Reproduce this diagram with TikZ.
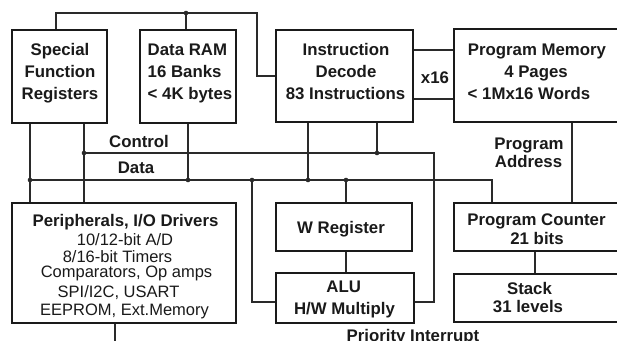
\documentclass[tikz,border=0pt]{standalone}
\usepackage{fontspec}
\setmainfont{Liberation Sans}
\definecolor{ink}{HTML}{1A1A1A}
\definecolor{wirec}{HTML}{2A2A2A}
\begin{document}
\begin{tikzpicture}[x=1pt,y=-1pt,
  box/.style={draw=ink,line width=2.8pt,inner sep=0pt},
  wire/.style={draw=wirec,line width=1.2pt},
  lbl/.style={font=\fontsize{16.8pt}{20pt}\selectfont\bfseries,text=ink,inner sep=0pt,anchor=base},
  reg/.style={font=\fontsize{16.5pt}{19pt}\selectfont,text=ink,inner sep=0pt,anchor=base},
  jdot/.style={circle,fill=wirec,inner sep=0pt,minimum size=4.6pt}]
\useasboundingbox (0,0) rectangle (617,340);
\clip (0,0) rectangle (617,340);
\fill[white] (0,0) rectangle (617,340);

% boxes
\node[box,minimum width=95pt,minimum height=93pt] (sfr) at (59.5,76.5) {};
\node[box,minimum width=96pt,minimum height=93pt] (dram) at (188,76.5) {};
\node[box,minimum width=137pt,minimum height=92pt] (id) at (344.5,76) {};
\node[box,minimum width=171pt,minimum height=93pt] (pm) at (539.5,75.5) {};
\node[box,minimum width=224pt,minimum height=120pt] (per) at (124,263) {};
\node[box,minimum width=136pt,minimum height=48pt] (wreg) at (344,227) {};
\node[box,minimum width=138pt,minimum height=50pt] (alu) at (345,298) {};
\node[box,minimum width=171pt,minimum height=48pt] (pc) at (539.5,227) {};
\node[box,minimum width=171pt,minimum height=48pt] (stack) at (539.5,298) {};

% junction coordinates
\coordinate (t1) at (56,13);
\coordinate (tj) at (186,13);
\coordinate (t2) at (257,13);
\coordinate (c0) at (84,153);
\coordinate (c1) at (434,153);
\coordinate (cj) at (377,153);
\coordinate (d0) at (30,180);
\coordinate (d1) at (492,180);
\coordinate (dR) at (188,180);
\coordinate (dA) at (252,180);
\coordinate (dI) at (308,180);
\coordinate (dW) at (346,180);
\coordinate (pa) at (572,160);
\coordinate (ps) at (535,260);
\coordinate (pb) at (115,345);

% wires
\draw[wire] (t1 |- sfr.north) -- (t1) -- (t2) |- (id.west);
\draw[wire] (tj) -- (tj |- dram.north);
\draw[wire] (d0 |- sfr.south) -- (d0 |- per.north);
\draw[wire] (c0 |- sfr.south) -- (c0 |- per.north);
\draw[wire] (c0) -- (c1) |- ([yshift=-4pt]alu.east);
\draw[wire] (cj |- id.south) -- (cj);
\draw[wire] (d0) -- (d1) -- (d1 |- pc.north);
\draw[wire] (dR |- dram.south) -- (dR);
\draw[wire] (dI |- id.south) -- (dI);
\draw[wire] (dW) -- (dW |- wreg.north);
\draw[wire] (dA) |- ([yshift=-4pt]alu.west);
\draw[wire] (dW |- wreg.south) -- (dW |- alu.north);
\draw[wire] ([yshift=26pt]id.east) -- ([yshift=26pt]id.east -| pm.west);
\draw[wire] ([yshift=-23pt]id.east) -- ([yshift=-23pt]id.east -| pm.west);
\draw[wire] (pa |- pm.south) -- (pa |- pc.north);
\draw[wire] (ps |- pc.south) -- (ps |- stack.north);
\draw[wire] (pb |- per.south) -- (pb);

% dots
\foreach \p in {tj,c0,cj,d0,dR,dA,dI,dW} \node[jdot] at (\p) {};

% texts
\node[lbl] (s1) at (60,55.5) {Special};
\node[lbl] (s2) at (60,77.5) {Function};
\node[lbl] (s3) at (60,99.5) {Registers};
\node[lbl,anchor=base west] (r1) at (147.5,55.5) {Data RAM};
\node[lbl,anchor=base west] (r2) at (147.5,77.5) {16 Banks};
\node[lbl,anchor=base west] (r3) at (147.5,99.5) {< 4K bytes};
\node[lbl] (i1) at (346,55.5) {Instruction};
\node[lbl] (i2) at (346,77.5) {Decode};
\node[lbl] (i3) at (345.5,99.5) {83 Instructions};
\node[lbl] (m1) at (537,55.5) {Program Memory};
\node[lbl] (m2) at (536,77.5) {4 Pages};
\node[lbl,anchor=base west] (m3) at (467.5,99.5) {< 1Mx16 Words};
\node[lbl] (x16) at (435,83.5) {x16};
\node[lbl] (ctl) at (139,147.5) {Control};
\node[lbl] (dat) at (136,173) {Data};
\node[lbl] (pa1) at (529,149) {Program};
\node[lbl] (pa2) at (528.5,167.5) {Address};
\node[lbl] (c1t) at (536.5,225.5) {Program Counter};
\node[lbl] (c2t) at (537,244) {21 bits};
\node[lbl] (k1) at (529.5,294) {Stack};
\node[lbl] (k2) at (528,312.7) {31 levels};
\node[lbl] (w1) at (341,233.3) {W Register};
\node[lbl] (a1) at (343.7,292.7) {ALU};
\node[lbl] (a2) at (344.5,314.3) {H/W Multiply};
\node[lbl] (p0) at (125.5,226.5) {Peripherals, I/O Drivers};
\node[reg] (p1) at (125,245) {10/12-bit A/D};
\node[reg] (p2) at (117.5,262.5) {8/16-bit Timers};
\node[reg] (p3) at (126.5,277.5) {Comparators, Op amps};
\node[reg] (p4) at (118.5,297) {SPI/I2C, USART};
\node[reg] (p5) at (124.5,315) {EEPROM, Ext.Memory};
\node[lbl] (pri) at (413,341.5) {Priority Interrupt};
\end{tikzpicture}
\end{document}
